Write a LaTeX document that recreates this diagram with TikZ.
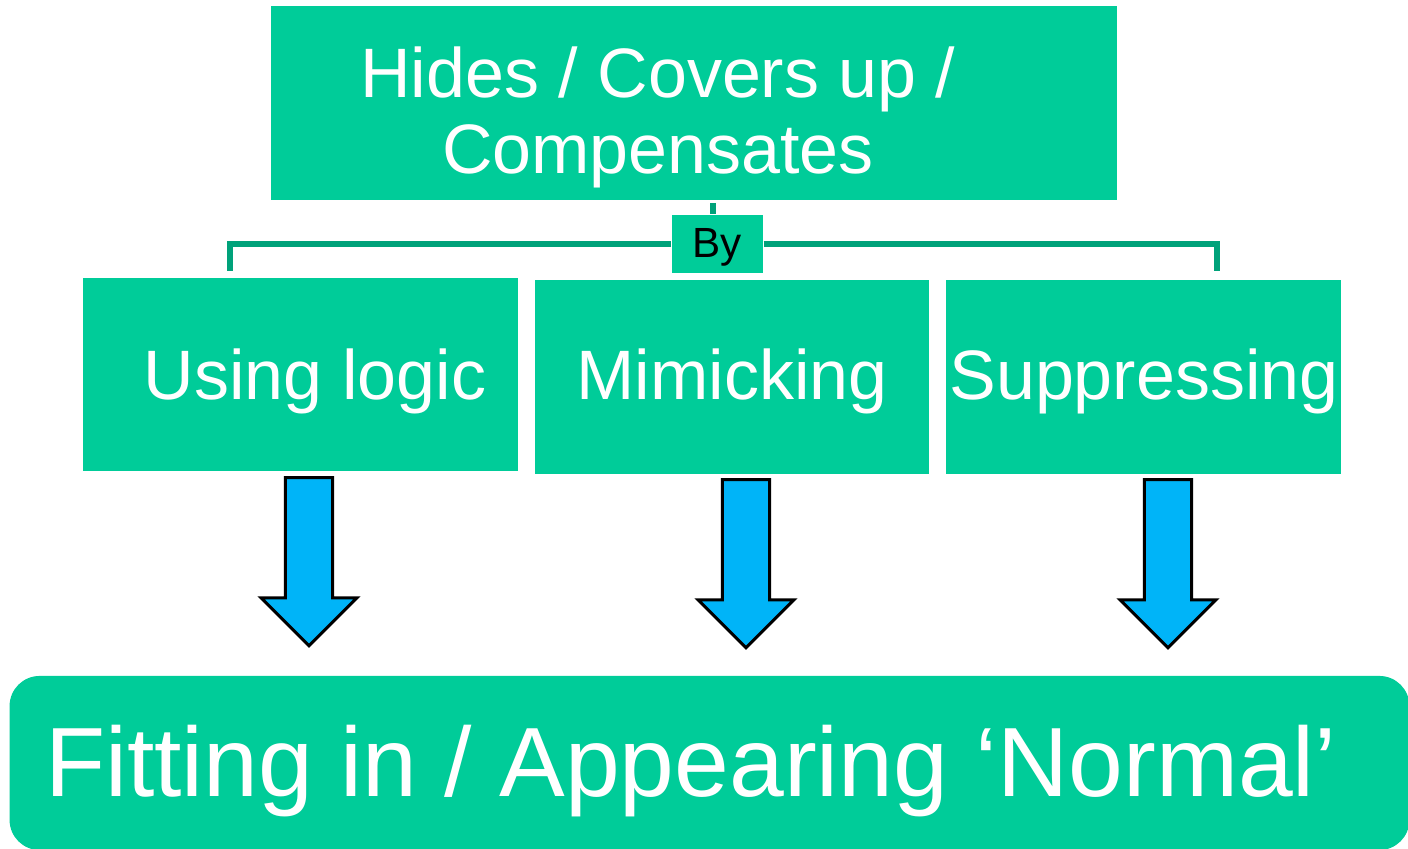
\documentclass[tikz,border=0pt]{standalone}
\usepackage{fontspec}
\setmainfont{Liberation Sans}
\usetikzlibrary{shapes.arrows}
\definecolor{cardgreen}{HTML}{00CC99}
\definecolor{linkgreen}{HTML}{00A27A}
\definecolor{arrowblue}{HTML}{00B4F8}

\begin{document}
\begin{tikzpicture}[
      x=0.01cm, y=-0.01cm,
      every node/.style={inner sep=0pt},
      card/.style={fill=cardgreen},
      cardtext/.style={text=white, font=\fontsize{19.9}{21.6}\selectfont},
      link/.style={draw=linkgreen, line width=0.055cm},
      downarrow/.style={single arrow, draw=black, fill=arrowblue,
                        line width=0.03cm, shape border rotate=270,
                        inner sep=0.22cm, minimum height=1.68cm,
                        single arrow head extend=0.245cm},
    ]
    \useasboundingbox (0,0) rectangle (1408,849);

    \node[card, minimum width=8.46cm, minimum height=1.94cm] (hides) at (694,103) {};
    \node[cardtext, align=center] (hidestext) at (658,117)
      {Hides / Covers up /\\Compensates};

    \coordinate (stubtop) at (713,203);
    \coordinate (leftend) at (230,271);
    \coordinate (rightend) at (1217,271);
    \node[card, minimum width=0.91cm, minimum height=0.58cm] (by) at (717.5,244) {};
    \node[font=\fontsize{12}{14}\selectfont, anchor=base] (bytext) at (717,258) {By};
    \draw[link] (stubtop) -- (stubtop |- by.north);
    \draw[link] (leftend) |- (by.west);
    \draw[link] (by.east) -| (rightend);

    \node[card, minimum width=4.35cm, minimum height=1.93cm] (logic) at (300.5,374.5) {};
    \node[card, minimum width=3.94cm, minimum height=1.94cm] (mimic) at (732,377) {};
    \node[card, minimum width=3.95cm, minimum height=1.94cm] (suppress) at (1143.5,377) {};
    \node[cardtext, anchor=base] (logictext) at (315,400) {Using logic};
    \node[cardtext, anchor=base] (mimictext) at (732,400) {Mimicking};
    \node[cardtext, anchor=base] (suppresstext) at (1144,400) {Suppressing};

    \node[downarrow] (logicarrow) at (309,550) {};
    \node[downarrow] (mimicarrow) at (746,552) {};
    \node[downarrow] (suppressarrow) at (1168,552) {};

    \node[card, rounded corners=0.3cm, minimum width=13.99cm,
          minimum height=1.74cm] (normal) at (709.5,763) {};
    \node[text=white, font=\fontsize{28}{32}\selectfont, anchor=base]
      (normaltext) at (691,797) {Fitting in / Appearing ‘Normal’};
  \end{tikzpicture}
\end{document}
